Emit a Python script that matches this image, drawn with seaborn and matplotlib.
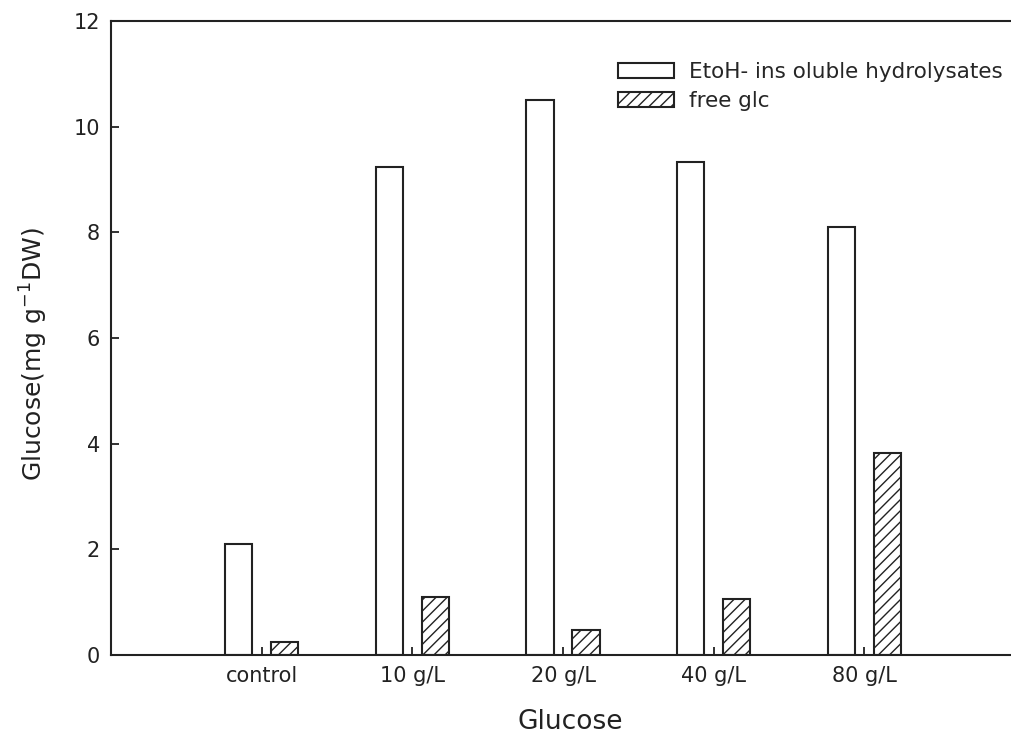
import matplotlib
matplotlib.use("Agg")
import matplotlib.pyplot as plt
import seaborn as sns
import pandas as pd

# Glucose content per treatment
categories = ["control", "10 g/L", "20 g/L", "40 g/L", "80 g/L"]
series_names = ["EtoH- ins oluble hydrolysates", "free glc"]
insoluble = [2.10, 9.23, 10.50, 9.33, 8.10]
free_glc = [0.25, 1.10, 0.47, 1.06, 3.83]
y_ticks = [0, 2, 4, 6, 8, 10, 12]

df = pd.DataFrame({
    "treatment": categories * 2,
    "series": [series_names[0]] * len(categories) + [series_names[1]] * len(categories),
    "value": insoluble + free_glc,
})

sns.set_theme(style="white")
plt.rcParams["font.family"] = ["DejaVu Sans"]
plt.rcParams["mathtext.default"] = "regular"
plt.rcParams["hatch.linewidth"] = 1.0
plt.rcParams["hatch.color"] = "#222222"

ink = "#222222"
fig = plt.figure(figsize=(10.12, 7.49), dpi=100)
ax = fig.add_axes([111 / 1012, 94 / 749, 901 / 1012, 634 / 749])

sns.barplot(
    data=df, x="treatment", y="value", hue="series",
    order=categories, hue_order=series_names,
    palette=["white", "white"], width=0.61, gap=0.41,
    edgecolor=ink, linewidth=1.5, errorbar=None, legend=False, ax=ax,
)
for patch in ax.containers[1]:
    patch.set_hatch("///")

ax.set_xlim(-1, 4.98)
ax.set_ylim(0, 12)
ax.set_yticks(y_ticks)
ax.set_yticklabels([str(t) for t in y_ticks])

for side in ["left", "bottom", "top"]:
    ax.spines[side].set_color(ink)
    ax.spines[side].set_linewidth(1.5)
ax.spines["right"].set_visible(False)

ax.tick_params(axis="both", direction="in", length=6, width=1.3, color=ink,
               labelsize=15, labelcolor=ink, pad=8)
ax.tick_params(axis="y", left=True)
ax.tick_params(axis="x", bottom=True)

ax.set_xlabel("Glucose", fontsize=19, color=ink, labelpad=15)
ax.xaxis.set_label_coords(0.51, -0.085)
ax.set_ylabel("Glucose(mg g$^{-1}$DW)", fontsize=18, color=ink)
ax.yaxis.set_label_coords(-0.068, 0.475)

ax.legend(ax.containers, series_names, loc="upper left",
          bbox_to_anchor=(0.5527, 0.9495), frameon=False, fontsize=15.5,
          handlelength=2.6, handleheight=0.7, handletextpad=0.7,
          labelspacing=0.45, borderaxespad=0)

fig.savefig("out.png", dpi=100)
